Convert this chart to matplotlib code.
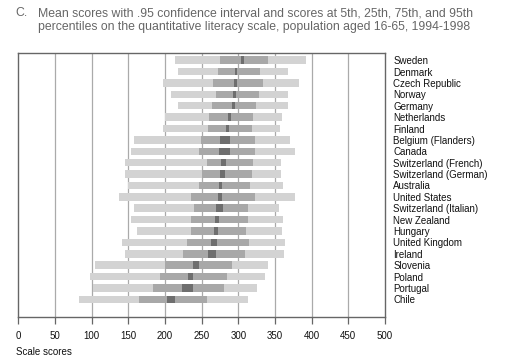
import matplotlib.pyplot as plt

plt.rcParams['font.family'] = ['Liberation Sans', 'DejaVu Sans']

countries = ["Sweden", "Denmark", "Czech Republic", "Norway", "Germany",
             "Netherlands", "Finland", "Belgium (Flanders)", "Canada",
             "Switzerland (French)", "Switzerland (German)", "Australia",
             "United States", "Switzerland (Italian)", "New Zealand", "Hungary",
             "United Kingdom", "Ireland", "Slovenia", "Poland", "Portugal", "Chile"]

p5 = [214, 218, 197, 208, 217, 200, 197, 157, 154, 145, 145, 149, 137, 158,
      153, 162, 141, 145, 105, 97, 102, 82]
p25 = [275, 272, 265, 269, 264, 260, 258, 249, 246, 257, 251, 246, 236, 240,
       236, 235, 230, 225, 200, 193, 184, 165]
mean = [305, 297, 296, 295, 293, 288, 285, 282, 281, 279, 278, 275, 275, 274,
        271, 269, 267, 264, 242, 234, 230, 208]
ci = [2, 1.6, 2, 2, 2, 2, 1.8, 6.8, 7.5, 3.4, 3.4, 2, 2.7, 4.8,
      2.7, 2.7, 4, 6, 4, 3.4, 7.5, 5.5]
p75 = [341, 329, 333, 328, 324, 320, 318, 322, 322, 320, 318, 316, 322, 313,
       313, 310, 314, 309, 291, 285, 280, 257]
p95 = [392, 367, 382, 367, 367, 360, 357, 370, 377, 358, 358, 361, 377, 355,
       361, 359, 363, 362, 341, 336, 326, 313]

xticks = [0, 50, 100, 150, 200, 250, 300, 350, 400, 450, 500]

fig = plt.figure(figsize=(5.21, 3.64), dpi=100)
ax = fig.add_axes([0.0355, 0.130, 0.7035, 0.7235])

y = list(range(len(countries)))
h = 0.66
ax.barh(y, [b - a for a, b in zip(p5, p95)], left=p5, height=h,
        color="#d3d3d3", zorder=2)
ax.barh(y, [b - a for a, b in zip(p25, p75)], left=p25, height=h,
        color="#a8a8a8", zorder=3)
ax.barh(y, [2 * c for c in ci], left=[m - c for m, c in zip(mean, ci)],
        height=h, color="#6e6e6e", zorder=4)

ax.set_xlim(0, 500)
ax.set_ylim(22.52, -0.6)
ax.set_xticks(xticks, [str(t) for t in xticks])
for t in xticks[1:-1]:
    ax.axvline(t, color="#aaaaaa", lw=0.9, zorder=1)

ax.set_yticks(y, countries)
ax.yaxis.tick_right()
ax.tick_params(axis="y", length=0, pad=6, labelsize=7, colors="#111111")
ax.tick_params(axis="x", direction="out", length=5, width=0.9, color="#666666",
               pad=5, labelsize=7, labelcolor="#111111")
for s in ax.spines.values():
    s.set_color("#666666")
    s.set_linewidth(1.0)

fig.text(16 / 521, 1 - 352 / 364, "Scale scores", fontsize=7, color="#111111",
         va="center", ha="left")

fig.text(15 / 521, 1 - 13 / 364, "C.", fontsize=8.8, color="#666666",
         va="center", ha="left")
fig.text(38 / 521, 1 - 20.5 / 364,
         "Mean scores with .95 confidence interval and scores at 5th, 25th, 75th, and 95th\n"
         "percentiles on the quantitative literacy scale, population aged 16-65, 1994-1998",
         fontsize=8.8, color="#666666", va="center", ha="left", linespacing=1.2)

fig.savefig("out.png", dpi=100)
